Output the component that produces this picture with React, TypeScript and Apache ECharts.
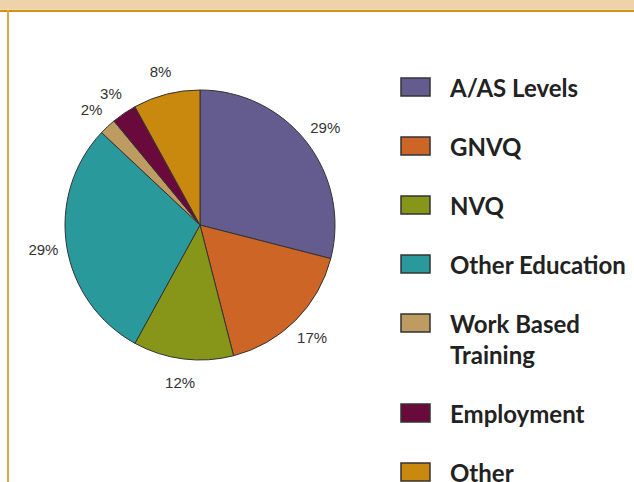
import React, { useEffect, useRef } from "react";
import * as echarts from "echarts";

const categories = [
  "A/AS Levels",
  "GNVQ",
  "NVQ",
  "Other Education",
  "Work Based\nTraining",
  "Employment",
  "Other",
];
const values = [29, 17, 12, 29, 2, 3, 8];
const colors = ["#645C8F", "#CD6527", "#879519", "#2A999B", "#BE9B60", "#6A0A3C", "#C9890F"];

export default function App() {
  const ref = useRef<HTMLDivElement>(null);
  useEffect(() => {
    if (!ref.current) return;
    const chart = echarts.init(ref.current, null, { renderer: "svg" });
    const data = categories.map((name, i) => ({
      name,
      value: values[i],
      itemStyle: { color: colors[i] },
    }));
    const legendEls: any[] = [];
    categories.forEach((name, i) => {
      const y = 87 + 59 * i + (i > 4 ? 31 : 0);
      legendEls.push({
        type: "rect",
        shape: { x: 401, y: y - 9, width: 29, height: 18 },
        style: { fill: colors[i], stroke: "#333", lineWidth: 1.5 },
      });
      legendEls.push({
        type: "text",
        x: 450,
        y: y - 15.5,
        style: {
          text: name,
          fill: "#222",
          font: "bold 24px Lato",
          lineHeight: 31,
          verticalAlign: "top",
          align: "left",
        },
      });
    });
    chart.setOption({
      animation: false,
      backgroundColor: "#ffffff",
      graphic: [
        { type: "rect", shape: { x: 0, y: 0, width: 634, height: 9 }, style: { fill: "#EED3AA" } },
        { type: "rect", shape: { x: 0, y: 9, width: 634, height: 1 }, style: { fill: "#F3DDB8" } },
        { type: "rect", shape: { x: 0, y: 10, width: 634, height: 2 }, style: { fill: "#D29215" } },
        { type: "rect", shape: { x: 7, y: 10, width: 2, height: 472 }, style: { fill: "#D6A847" } },
        ...legendEls,
      ],
      series: [
        {
          type: "pie",
          center: [200, 225],
          radius: 135,
          startAngle: 90,
          clockwise: true,
          label: { show: false },
          labelLine: { show: false },
          itemStyle: { borderColor: "#333", borderWidth: 1 },
          emphasis: { disabled: true },
          data,
        },
        {
          type: "pie",
          center: [200, 225],
          radius: [135, 176],
          startAngle: 90,
          clockwise: true,
          silent: true,
          itemStyle: { color: "rgba(0,0,0,0)", borderWidth: 0 },
          label: {
            show: true,
            position: "inside",
            formatter: "{c}%",
            color: "#333",
            fontFamily: "Liberation Sans",
            fontSize: 15,
            rotate: 0,
          },
          labelLine: { show: false },
          emphasis: { disabled: true },
          data: categories.map((name, i) => ({ name, value: values[i] })),
        },
      ],
    });
    return () => chart.dispose();
  }, []);
  return (
    <div
      ref={ref}
      style={{ position: "absolute", left: 0, top: 0, width: 634, height: 482 }}
    />
  );
}
